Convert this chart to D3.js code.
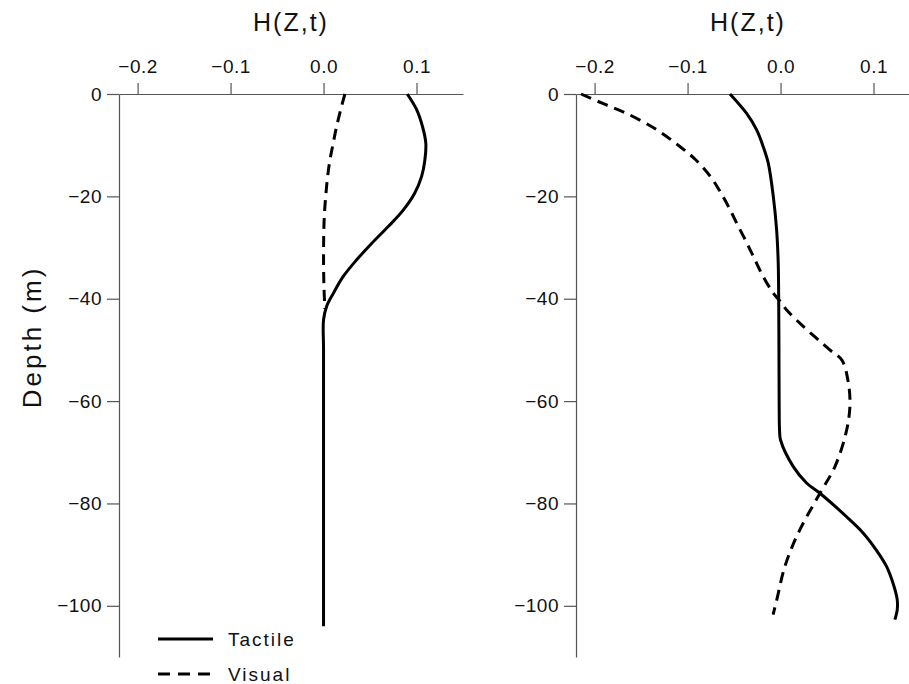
<html>
<head>
  <meta charset="utf-8">
  <style>
    body { margin: 0; background: #fff; }
    svg { font-family: "Liberation Sans", Arial, Helvetica, sans-serif; }
    .tick text { font-size: 19px; fill: #111; letter-spacing: 0.5px; }
    .axis path, .axis line { stroke: #555; stroke-width: 1.2; }
  </style>
</head>
<body>
  <svg id="chart"></svg>
  <script src="https://cdn.jsdelivr.net/npm/d3@7"></script>
  <script>
    // tick values
    var hTicks = [-0.2, -0.1, 0.0, 0.1];
    var depthTicks = [0, -20, -40, -60, -80, -100];

    // left panel: depth (m) and H(Z,t)
    var leftTactileDepth = [0, -3, -6.4, -9.6, -12.9, -16.1, -19.4, -22.7, -25.9, -29.2, -32.4, -35.7, -39, -41.5, -44.1, -50, -70, -104];
    var leftTactileH     = [0.090, 0.100, 0.1065, 0.110, 0.109, 0.1055, 0.098, 0.0857, 0.0696, 0.0517, 0.0356, 0.021, 0.0104, 0.0033, 0.0, 0.0, 0.0, 0.0];
    var leftVisualDepth  = [0, -3.1, -6.4, -9.6, -12.9, -16.1, -19.4, -22.7, -25.9, -32.4, -38, -42];
    var leftVisualH      = [0.023, 0.0184, 0.014, 0.0104, 0.0069, 0.0044, 0.0026, 0.0012, 0.0004, 0.0, 0.0005, 0.0015];

    // right panel
    var rightTactileDepth = [0, -3.8, -7, -10.3, -13.5, -20, -26.6, -33, -40, -50, -60, -66, -67.6, -72.8, -76, -78, -82.6, -85.8, -89.1, -92.3, -95.6, -98.8, -100.8, -102.7];
    var rightTactileH     = [-0.0544, -0.0365, -0.0257, -0.0186, -0.0132, -0.0078, -0.0042, -0.0025, -0.002, -0.0017, -0.0015, -0.001, 0.0, 0.0137, 0.028, 0.0424, 0.071, 0.089, 0.103, 0.114, 0.121, 0.1255, 0.1255, 0.123];
    var rightVisualDepth  = [0, -1.9, -3.8, -7, -10.3, -12.9, -16.1, -18.75, -22, -25.3, -29.2, -32.4, -35.7, -38.9, -40.6, -42.2, -45.4, -50, -52, -56.5, -61.1, -66.3, -72.8, -78, -85.8, -92.3, -98.8, -101.7];
    var rightVisualH      = [-0.2146, -0.1906, -0.1655, -0.133, -0.108, -0.091, -0.0755, -0.066, -0.056, -0.047, -0.036, -0.0275, -0.0186, -0.0078, 0.0, 0.0066, 0.0244, 0.053, 0.066, 0.073, 0.0746, 0.0703, 0.0585, 0.0424, 0.019, 0.0047, -0.004, -0.008];

    var width = 909, height = 684;
    var svg = d3.select("#chart").attr("width", width).attr("height", height);

    var plotTop = 94, plotBottom = 657, plotWidth = 344;

    var yScale = d3.scaleLinear().domain([0, -110]).range([plotTop, plotBottom]);

    function zip(depths, hs) {
      return depths.map(function(d, i) { return { depth: d, h: hs[i] }; });
    }

    function drawPanel(x0, series) {
      var xScale = d3.scaleLinear().domain([-0.22, 0.15]).range([x0, x0 + plotWidth]);
      var g = svg.append("g");

      // top axis
      g.append("g").attr("class", "axis")
        .attr("transform", "translate(0," + plotTop + ")")
        .call(d3.axisTop(xScale).tickValues(hTicks).tickFormat(d3.format(".1f"))
          .tickSize(11).tickSizeOuter(0).tickPadding(10));

      // left axis
      g.append("g").attr("class", "axis")
        .attr("transform", "translate(" + x0 + ",0)")
        .call(d3.axisLeft(yScale).tickValues(depthTicks).tickFormat(d3.format("d"))
          .tickSize(12).tickSizeOuter(0).tickPadding(5));

      // title
      g.append("text")
        .text("H(Z,t)")
        .attr("x", x0 + plotWidth / 2)
        .attr("y", 31)
        .attr("text-anchor", "middle")
        .attr("font-size", "25px")
        .attr("letter-spacing", "2px")
        .attr("fill", "#111");

      var line = d3.line()
        .x(function(d) { return xScale(d.h); })
        .y(function(d) { return yScale(d.depth); })
        .curve(d3.curveCatmullRom);

      series.forEach(function(s) {
        g.append("path")
          .datum(s.data)
          .attr("d", line)
          .attr("fill", "none")
          .attr("stroke", "#000")
          .attr("stroke-width", 3)
          .attr("stroke-dasharray", s.dashed ? "11,7" : null);
      });
    }

    drawPanel(119, [
      { data: zip(leftTactileDepth, leftTactileH), dashed: false },
      { data: zip(leftVisualDepth, leftVisualH), dashed: true }
    ]);
    drawPanel(576, [
      { data: zip(rightTactileDepth, rightTactileH), dashed: false },
      { data: zip(rightVisualDepth, rightVisualH), dashed: true }
    ]);

    // y label
    svg.append("text")
      .text("Depth (m)")
      .attr("transform", "translate(41,337) rotate(-90)")
      .attr("text-anchor", "middle")
      .attr("font-size", "26px")
      .attr("letter-spacing", "3px")
      .attr("fill", "#111");

    // legend
    var legend = [
      { name: "Tactile", dashed: false, y: 639 },
      { name: "Visual", dashed: true, y: 674 }
    ];
    var lg = svg.append("g").selectAll("g").data(legend).enter().append("g");
    lg.append("line")
      .attr("x1", 158).attr("x2", 213)
      .attr("y1", function(d) { return d.y; }).attr("y2", function(d) { return d.y; })
      .attr("stroke", "#000").attr("stroke-width", 3)
      .attr("stroke-dasharray", function(d) { return d.dashed ? "12,8" : null; });
    lg.append("text")
      .text(function(d) { return d.name; })
      .attr("x", 228)
      .attr("y", function(d) { return d.y + 7; })
      .attr("font-size", "19px")
      .attr("letter-spacing", "2px")
      .attr("fill", "#111");
  </script>
</body>
</html>
